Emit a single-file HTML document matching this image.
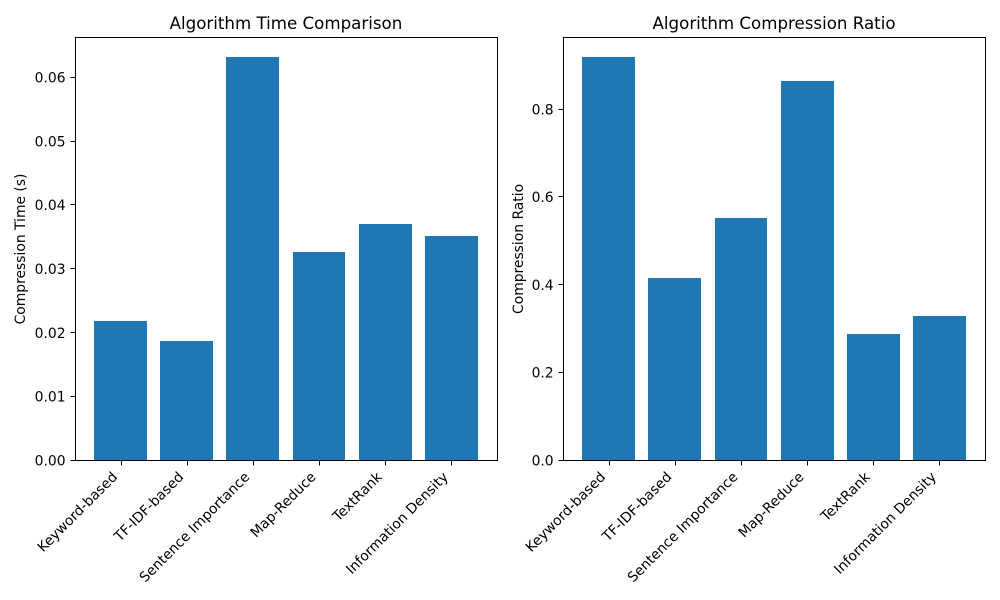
<!DOCTYPE html>
<html>
<head>
<meta charset="utf-8">
<title>Algorithm Comparison</title>
<style>
html,body{margin:0;padding:0;background:#fff}
svg{display:block}
text{font-family:"DejaVu Sans",sans-serif;fill:#000}
.crisp{shape-rendering:crispEdges}
</style>
</head>
<body>
<svg id="fig" xmlns="http://www.w3.org/2000/svg" width="1000" height="600" viewBox="0 0 1000 600"></svg>
<script>
const categories = ["Keyword-based","TF-IDF-based","Sentence Importance","Map-Reduce","TextRank","Information Density"];
const timeValues = [0.0218,0.0186,0.0631,0.0326,0.037,0.0351];
const ratioValues = [0.918,0.415,0.552,0.864,0.288,0.329];
const timeTicks = [0,0.01,0.02,0.03,0.04,0.05,0.06];
const timeTickLabels = ["0.00","0.01","0.02","0.03","0.04","0.05","0.06"];
const ratioTicks = [0,0.2,0.4,0.6,0.8];
const ratioTickLabels = ["0.0","0.2","0.4","0.6","0.8"];

const svg = document.getElementById('fig');
const NS = 'http://www.w3.org/2000/svg';
function mk(tag, attrs, parent, txt){
  const el = document.createElementNS(NS, tag);
  for(const k in attrs) el.setAttribute(k, attrs[k]);
  if(txt !== undefined) el.textContent = txt;
  parent.appendChild(el);
  return el;
}
function drawPanel(opts){
  const {key,left,right,top,bottom,values,ticks,tickLabels,title,ylabel,ylabelX} = opts;
  const g = mk('g', {}, svg);
  
  
  const width = 0.8;
  const n = categories.length;
  const margin = 0.05 * (n - 1 + width);
  const xMin = -width/2 - margin, xMax = n - 1 + width/2 + margin;
  const yMax = Math.max(...values) * 1.05;
  const xs = v => left + (v - xMin) / (xMax - xMin) * (right - left);
  const ys = v => bottom - v / yMax * (bottom - top);
  const snap = v => Math.floor(v + 0.1) + 0.5;
  const snapY = v => Math.floor(v - 0.3) + 0.5;
  const snapX = v => Math.round(v) + 0.5;
  const edgeY = v => Math.round(v - 0.3);

  values.forEach((v,i) => {
    const x0 = Math.round(xs(i-width/2)), x1 = Math.round(xs(i+width/2)), y0 = edgeY(ys(v));
    const b = mk('rect', {class:'crisp', x:x0, y:y0, width:x1-x0, height:edgeY(bottom)-y0, fill:'#1f77b4'}, g);
    
    
  });

  ticks.forEach((t,i) => {
    const y = snapY(ys(t));
    const tm = mk('line', {class:'crisp', x1:snap(left), x2:snap(left)-5, y1:y, y2:y, stroke:'#000','stroke-width':1}, g);
    
    
    const lb = mk('text', {x:left-9.4, y:ys(t)+5.05, 'text-anchor':'end','font-size':13.89}, g, tickLabels[i]);
    
    
  });

  categories.forEach((c,i) => {
    const x = snapX(xs(i));
    const tm = mk('line', {class:'crisp', x1:x, x2:x, y1:snap(bottom), y2:snap(bottom)+5, stroke:'#000','stroke-width':1}, g);
    
    
    const lb = mk('text', {'text-anchor':'end','font-size':13.89, transform:'translate('+(xs(i)-2.4)+','+(bottom+17.4)+') rotate(-45)'}, g, c);
    
    
  });

  const frame = mk('rect', {class:'crisp', x:snap(left), y:snap(top), width:snap(right)-snap(left), height:snap(bottom)-snap(top), fill:'none', stroke:'#000','stroke-width':1}, g);
  
  

  const tt = mk('text', {x:(left+right)/2, y:top-8.6, 'text-anchor':'middle','font-size':16.67}, g, title);
  
  

  const yl = mk('text', {'text-anchor':'middle','font-size':13.89, transform:'translate('+ylabelX+','+(top+bottom)/2+') rotate(-90)'}, g, ylabel);
  
  
}
drawPanel({key:'time',left:74.95,right:496.95,top:37.6,bottom:460.3,values:timeValues,ticks:timeTicks,tickLabels:timeTickLabels,title:'Algorithm Time Comparison',ylabel:'Compression Time (s)',ylabelX:25});
drawPanel({key:'ratio',left:563.05,right:985.05,top:37.6,bottom:460.3,values:ratioValues,ticks:ratioTicks,tickLabels:ratioTickLabels,title:'Algorithm Compression Ratio',ylabel:'Compression Ratio',ylabelX:523});
</script>
</body>
</html>
